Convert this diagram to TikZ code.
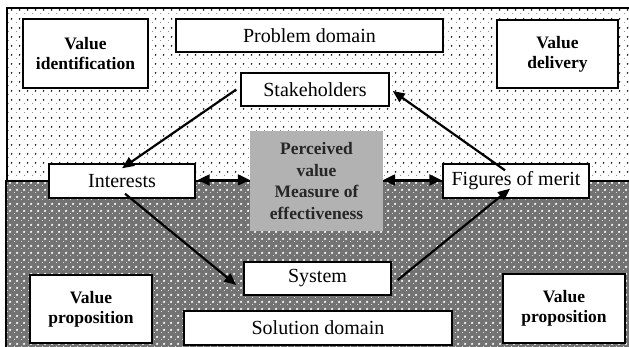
\documentclass[tikz,border=0pt]{standalone}
\usepackage{fontspec}
\setmainfont{Liberation Serif}
\usetikzlibrary{patterns.meta,arrows.meta,calc}
\tikzdeclarepattern{
  name=topdots,
  type=uncolored,
  bounding box={(0pt,0pt) and (8pt,9pt)},
  tile size={(8pt,9pt)},
  code={\fill (0pt,0pt) circle (1.1pt); \fill (4pt,4.5pt) circle (1.1pt);}
}
\tikzdeclarepattern{
  name=botdots,
  type=uncolored,
  bounding box={(0pt,0pt) and (7pt,7pt)},
  tile size={(7pt,7pt)},
  code={\fill (0pt,0pt) circle (1.4pt); \fill (3.5pt,3.5pt) circle (1.4pt);}
}
\tikzset{
  box/.style={draw=black, line width=1.4pt, fill=white, inner sep=0pt, align=center,
    font=\fontsize{20}{22}\selectfont},
  boldbox/.style={box, font=\fontsize{17.5}{20}\selectfont\bfseries},
  arr/.style={line width=2.2pt, -{Triangle[length=12pt,width=10pt]}},
  darr/.style={line width=2.2pt, {Triangle[length=12pt,width=11pt]}-{Triangle[length=12pt,width=11pt]}},
}
\begin{document}
\begin{tikzpicture}[x=1pt,y=-1pt]
\useasboundingbox (0,0) rectangle (629,347);
% regions
\fill[white] (0,0) rectangle (629,347);
\fill[pattern=topdots, pattern color=black!85] (7,8) rectangle (629,181);
\fill[black!55] (6,181) rectangle (629,347);
\fill[pattern=botdots, pattern color=white] (6,181) rectangle (629,347);
\draw[line width=1.6pt] (629,8) -- (7,8) -- (7,181);
\draw[line width=1.8pt] (629,181) -- (6,181) -- (6,347);
% nodes
\node[boldbox, minimum width=125pt, minimum height=69pt] (vid) at (85.5,53.5) {Value\\identification};
\node[box, minimum width=267pt, minimum height=33pt] (prob) at (309.5,35.5) {Problem domain};
\node[boldbox, minimum width=121pt, minimum height=68pt] (vdel) at (557.5,54) {Value\\delivery};
\node[box, minimum width=148pt, minimum height=33pt] (stake) at (315,89.5) {Stakeholders};
\node[draw=none, fill=black!30, inner sep=0pt, minimum width=133pt, minimum height=100pt,
  align=center, font=\fontsize{17.5}{21.5}\selectfont\bfseries, text=black!85] (pv) at (316.5,181)
  {Perceived\\value\\Measure of\\effectiveness};
\node[box, minimum width=146pt, minimum height=34pt] (int) at (122,181) {Interests};
\node[box, minimum width=146pt, minimum height=34pt] (fig) at (516,181) {Figures of merit};
\node[box, minimum width=147pt, minimum height=33pt] (sys) at (317.5,278.5) {System};
\node[box, minimum width=268pt, minimum height=34pt] (sol) at (318,328) {Solution domain};
\node[boldbox, minimum width=122pt, minimum height=68pt] (vpl) at (91,309) {Value\\proposition};
\node[boldbox, minimum width=122pt, minimum height=69pt] (vpr) at (564,308.5) {Value\\proposition};
% arrows
\draw[arr] ([xshift=-4pt]stake.west) -- ([yshift=-5pt]int.north);
\draw[arr] ([xshift=-11pt,yshift=-7pt]fig.north) -- ([xshift=3pt,yshift=-1.5pt]stake.east);
\draw[arr] ([xshift=3pt,yshift=5pt]int.south) -- ([xshift=-7pt,yshift=-6.5pt]sys.west);
\draw[arr] ([xshift=6pt,yshift=-1.5pt]sys.east) -- ([xshift=-6pt,yshift=10pt]fig.south);
\draw[darr] ([xshift=2pt,yshift=1pt]int.east) -- ([yshift=1pt]pv.west);
\draw[darr] ([yshift=1pt]pv.east) -- ([xshift=-1pt,yshift=1pt]fig.west);
\end{tikzpicture}
\end{document}
